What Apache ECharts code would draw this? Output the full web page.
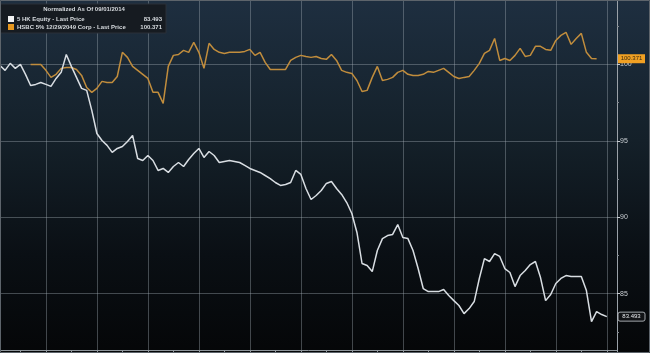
<!DOCTYPE html>
<html><head><meta charset="utf-8">
<script src="https://cdn.jsdelivr.net/npm/echarts@6/dist/echarts.min.js"></script>
<style>html,body{margin:0;padding:0;background:#000;overflow:hidden;width:650px;height:353px;position:relative}
#c{position:absolute;left:0;top:-12px;width:650px;height:382px}</style>
</head><body><div id="c"></div>
<script>
// ---- data ----
const hkEquity = [
 99.93,99.61,100.07,99.74,100.00,99.35,98.62,98.69,98.82,98.69,
 98.56,99.08,99.48,100.65,99.87,99.15,98.43,98.30,96.99,95.48,
 95.02,94.70,94.24,94.50,94.63,94.96,95.35,93.84,93.71,94.04,
 93.71,93.06,93.19,92.93,93.32,93.58,93.32,93.78,94.17,94.50,
 93.91,94.30,94.04,93.58,93.65,93.71,93.65,93.58,93.39,93.19,
 93.06,92.93,92.73,92.53,92.27,92.08,92.14,92.27,93.06,92.80,
 91.88,91.16,91.42,91.75,92.21,92.34,91.88,91.49,90.96,90.24,
 89.00,86.97,86.84,86.44,87.82,88.60,88.80,88.87,89.52,88.67,
 88.60,87.82,86.64,85.33,85.13,85.13,85.13,85.27,84.87,84.54,
 84.22,83.69,84.02,84.48,85.99,87.29,87.10,87.62,87.43,86.64,
 86.38,85.46,86.18,86.51,86.90,87.10,86.05,84.54,84.94,85.66,
 85.99,86.18,86.12,86.12,86.12,85.20,83.17,83.82,83.63,83.493
];
const hsbcBond = [
 null,null,null,null,null,null,100.00,100.00,100.00,99.61,
 99.15,99.35,99.74,99.80,99.80,99.67,99.28,98.49,98.17,98.43,
 98.89,98.82,98.82,99.21,100.79,100.46,99.87,99.61,99.35,99.08,
 98.17,98.17,97.45,99.87,100.59,100.65,100.92,100.79,101.44,100.79,
 99.74,101.38,100.98,100.79,100.72,100.79,100.79,100.79,100.85,100.98,
 100.59,100.79,100.13,99.67,99.67,99.67,99.67,100.26,100.46,100.59,
 100.52,100.46,100.52,100.39,100.33,100.65,100.26,99.61,99.48,99.41,
 98.95,98.23,98.30,99.15,99.87,98.95,99.02,99.15,99.48,99.61,
 99.35,99.28,99.28,99.35,99.54,99.48,99.61,99.74,99.48,99.21,
 99.08,99.15,99.21,99.61,100.07,100.72,100.92,101.70,100.26,100.39,
 100.26,100.59,101.05,100.52,100.59,101.18,101.18,100.98,100.92,101.57,
 101.90,102.10,101.31,101.70,102.03,100.79,100.39,100.371
];
const yTicks = [85, 90, 95, 100];
const legendTitle = 'Normalized As Of 09/01/2014';
const seriesNames = ['5 HK Equity - Last Price', 'HSBC 5% 12/29/2049 Corp - Last Price'];
const lastValues = ['83.493', '100.371'];
const categories = [];
for (let i = 0; i < 122; i++) categories.push(String(i + 1));

// ---- chart ----
const OY = 12; // the chart canvas starts 12px above the window
const chart = echarts.init(document.getElementById('c'), null, {renderer: 'canvas'});
const gridCol = 'rgba(165,175,185,0.38)';
const option = {
  backgroundColor: {type: 'linear', x: 0, y: 0, x2: 0, y2: 1, colorStops: [
    {offset: 0, color: '#1f3042'}, {offset: 0.4, color: '#142029'},
    {offset: 0.7, color: '#0a0f14'}, {offset: 1, color: '#040506'}]},
  animation: false,
  grid: {left: 0, right: 33, top: 0, bottom: 0, containLabel: false},
  xAxis: {
    type: 'category', data: categories, boundaryGap: false, offset: -20,
    axisLine: {show: true, lineStyle: {color: '#8d949a', width: 1}},
    axisTick: {show: true, length: 3, interval: (i) => i % 5 === 4, lineStyle: {color: '#8d949a'}},
    axisLabel: {show: false},
    splitLine: {show: true, interval: (i) => i % 10 === 9, lineStyle: {color: gridCol, width: 1}}
  },
  yAxis: {
    type: 'value', position: 'right', min: 80, max: 105, interval: 5,
    axisLine: {show: true, lineStyle: {color: '#9aa1a8', width: 1}},
    axisTick: {show: true, length: 3, lineStyle: {color: '#c8cdd2'}},
    minorTick: {show: true, splitNumber: 2, length: 2, lineStyle: {color: '#80878e'}},
    axisLabel: {color: '#c8cdd2', fontSize: 7, margin: 3, fontFamily: 'Liberation Sans',
      formatter: (v) => yTicks.indexOf(v) >= 0 ? String(v) : ''},
    splitLine: {show: true, lineStyle: {color: gridCol, width: 1}}
  },
  series: [
    {name: seriesNames[0], type: 'line', data: hkEquity, symbol: 'none',
      lineStyle: {color: '#d9dee3', width: 1.5}, z: 3},
    {name: seriesNames[1], type: 'line', data: hsbcBond, symbol: 'none', connectNulls: false,
      lineStyle: {color: '#c18d3d', width: 1.5}, z: 2}
  ]
};
chart.setOption(option);

const yW = chart.convertToPixel({yAxisIndex: 0}, hkEquity[hkEquity.length - 1]);
const yO = chart.convertToPixel({yAxisIndex: 0}, hsbcBond[hsbcBond.length - 1]);
const f = 'Liberation Sans';
chart.setOption({graphic: [
  {type: 'rect', shape: {x: 0.5, y: OY + 0.5, width: 649, height: 352}, style: {fill: 'none', stroke: '#5d646b', lineWidth: 1}, z: 100},
  {type: 'rect', shape: {x: 0, y: OY + 4, width: 166, height: 29}, style: {fill: '#161b21', stroke: '#2a3038'}, z: 50},
  {type: 'text', x: 84, y: OY + 9, style: {text: legendTitle, fill: '#d6dade', font: 'bold 6px ' + f, align: 'center', verticalAlign: 'middle'}, z: 51},
  {type: 'rect', shape: {x: 8, y: OY + 16, width: 6, height: 6}, style: {fill: '#f2f2f2'}, z: 51},
  {type: 'text', x: 17, y: OY + 19.5, style: {text: seriesNames[0], fill: '#d6dade', font: 'bold 6px ' + f, verticalAlign: 'middle'}, z: 51},
  {type: 'text', x: 162, y: OY + 19.5, style: {text: lastValues[0], fill: '#d6dade', font: 'bold 6px ' + f, align: 'right', verticalAlign: 'middle'}, z: 51},
  {type: 'rect', shape: {x: 8, y: OY + 24, width: 6, height: 6}, style: {fill: '#e8981f'}, z: 51},
  {type: 'text', x: 17, y: OY + 27.5, style: {text: seriesNames[1], fill: '#d6dade', font: 'bold 6px ' + f, verticalAlign: 'middle'}, z: 51},
  {type: 'text', x: 162, y: OY + 27.5, style: {text: lastValues[1], fill: '#d6dade', font: 'bold 6px ' + f, align: 'right', verticalAlign: 'middle'}, z: 51},
  {type: 'rect', shape: {x: 618, y: yO - 4.5, width: 27, height: 9}, style: {fill: '#f0a023'}, z: 60},
  {type: 'text', x: 631.5, y: yO, style: {text: lastValues[1], fill: '#3a2a10', font: '6px ' + f, align: 'center', verticalAlign: 'middle'}, z: 61},
  {type: 'rect', shape: {x: 618, y: yW - 4.5, width: 27, height: 9, r: 2}, style: {fill: '#111316', stroke: '#c9ced3', lineWidth: 0.8}, z: 60},
  {type: 'text', x: 631.5, y: yW, style: {text: lastValues[0], fill: '#e6e9ec', font: '6px ' + f, align: 'center', verticalAlign: 'middle'}, z: 61}
]});
</script>
</body></html>
